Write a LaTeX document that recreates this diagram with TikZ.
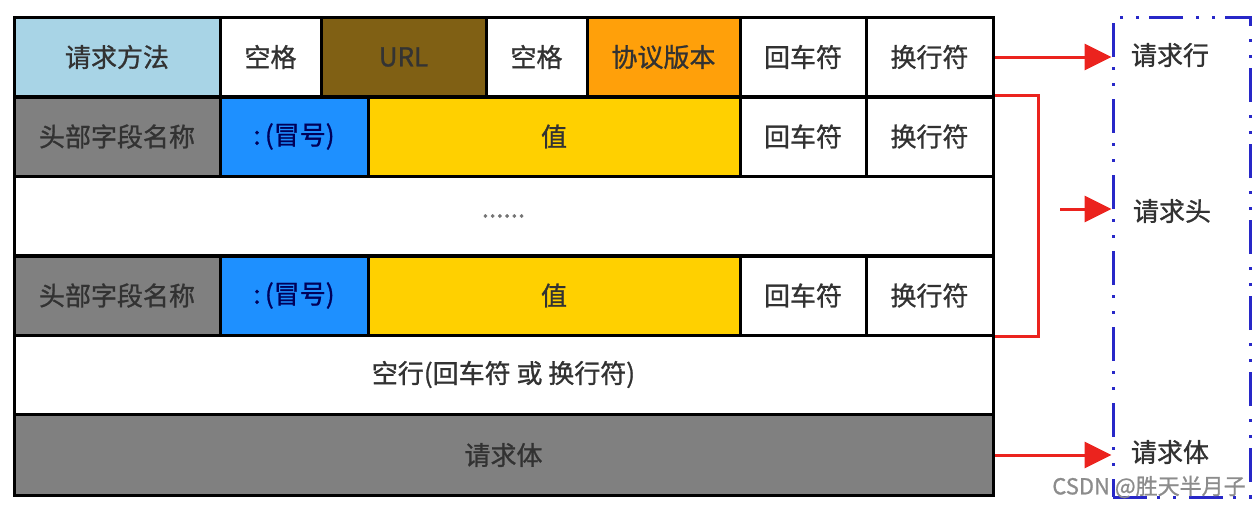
\documentclass[tikz,border=0pt]{standalone}
\usepackage{fontspec}
\setmainfont{Noto Sans CJK SC}[FakeBold=1]
\usetikzlibrary{arrows.meta}

\definecolor{methodblue}{RGB}{168,212,230}
\definecolor{urlbrown}{RGB}{128,96,20}
\definecolor{verorange}{RGB}{255,160,10}
\definecolor{namegray}{RGB}{128,128,128}
\definecolor{colonblue}{RGB}{30,144,255}
\definecolor{valgold}{RGB}{255,208,0}
\definecolor{textgray}{RGB}{50,50,50}
\definecolor{arrowred}{RGB}{235,35,30}
\definecolor{boxblue}{RGB}{40,40,200}

\tikzset{
  cell/.style={draw=black, line width=3pt, inner sep=0pt, minimum height=79pt,
    text=textgray, font=\fontsize{26}{30}\selectfont},
  redarrow/.style={draw=arrowred, line width=3pt, -{Triangle[length=27pt,width=26pt]}},
  redline/.style={draw=arrowred, line width=3pt},
  partbox/.style={draw=boxblue, line width=3pt, inner sep=0pt,
    dash pattern=on 34pt off 10pt on 3pt off 13pt on 3pt off 13pt},
  partlabel/.style={text=textgray, font=\fontsize{26}{30}\selectfont},
  wmark/.style={text=black!45, font=\fontsize{22}{26}\selectfont}
}

\begin{document}
\begin{tikzpicture}[x=1pt, y=-1pt]
  \useasboundingbox (0,0) rectangle (1260,509);

  % request line
  \node[cell, fill=methodblue, minimum width=206pt] (rm) at (117,57) {请求方法};
  \node[cell, fill=white, minimum width=101pt] (sp1) at (270.5,57) {空格};
  \node[cell, fill=urlbrown, minimum width=165pt, text=black!80] (url) at (403.5,57) {URL};
  \node[cell, fill=white, minimum width=101pt] (sp2) at (536.5,57) {空格};
  \node[cell, fill=verorange, minimum width=153pt] (ver) at (663.5,57) {协议版本};
  \node[cell, fill=white, minimum width=126pt] (cr1) at (803,57) {回车符};
  \node[cell, fill=white, minimum width=127pt] (lf1) at (929.5,57) {换行符};

  % header lines
  \node[cell, fill=namegray, minimum width=206pt] (hn2) at (117,136.5) {头部字段名称};
  \node[cell, fill=colonblue, minimum width=148pt, text=blue!35!black] (co2) at (294,136.5) {:\,(冒号)};
  \node[cell, fill=valgold, minimum width=372pt] (va2) at (554,136.5) {值};
  \node[cell, fill=white, minimum width=126pt] (cr2) at (803,136.5) {回车符};
  \node[cell, fill=white, minimum width=127pt] (lf2) at (929.5,136.5) {换行符};

  \node[cell, fill=white, minimum width=979pt, text=black!55] (dots) at (503.5,216) {......};

  \node[cell, fill=namegray, minimum width=206pt] (hn4) at (117,295.5) {头部字段名称};
  \node[cell, fill=colonblue, minimum width=148pt, text=blue!35!black] (co4) at (294,295.5) {:\,(冒号)};
  \node[cell, fill=valgold, minimum width=372pt] (va4) at (554,295.5) {值};
  \node[cell, fill=white, minimum width=126pt] (cr4) at (803,295.5) {回车符};
  \node[cell, fill=white, minimum width=127pt] (lf4) at (929.5,295.5) {换行符};

  % blank line and body
  \node[cell, fill=white, minimum width=979pt] (blank) at (503.5,374.5) {空行(回车符 或 换行符)};
  \node[cell, fill=namegray, minimum width=979pt, minimum height=81pt] (body) at (503.5,455) {请求体};

  % parts
  \node[partbox, minimum width=137pt, minimum height=480pt] (box) at (1181.5,257) {};
  \node[partlabel] (lrow) at (1170,55) {请求行};
  \node[partlabel] (lhead) at (1172,211) {请求头};
  \node[partlabel] (lbody) at (1170,452) {请求体};

  \draw[redarrow] (lf1.east) -- (lf1.east -| box.west);
  \draw[redline] (lf2.north east) -- ([xshift=44pt]lf2.north east) |- (lf4.south east);
  \coordinate (hsrc) at (1060,209);
  \draw[redarrow] (hsrc) -- (hsrc -| box.west);
  \draw[redarrow] (body.east) -- (body.east -| box.west);

  \node[wmark] (csdn) at (1149,487) {CSDN @胜天半月子};
\end{tikzpicture}
\end{document}
